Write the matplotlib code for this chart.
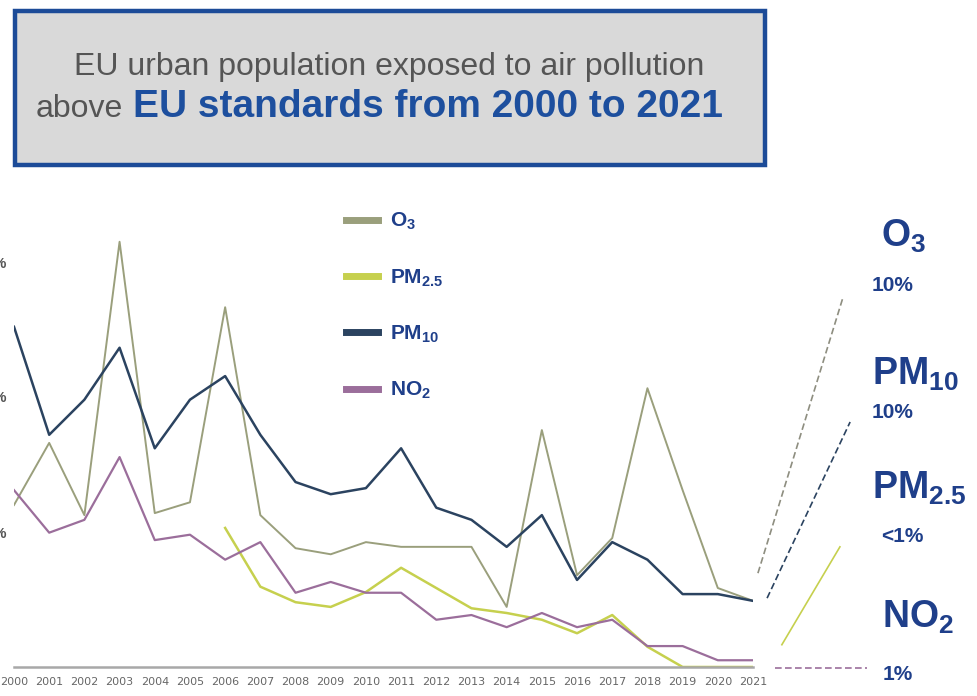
import matplotlib.pyplot as plt
from matplotlib.patches import Rectangle

years = list(range(2000, 2022))
o3 = [24.0, 33.2, 22.5, 63.0, 22.8, 24.4, 53.3, 22.5, 17.6, 16.7, 18.5,
      17.8, 17.8, 17.8, 8.9, 35.1, 13.6, 19.1, 41.3, 26.2, 11.7, 9.8]
pm10 = [50.4, 34.4, 39.6, 47.3, 32.4, 39.6, 43.1, 34.4, 27.4, 25.6, 26.5,
        32.4, 23.6, 21.8, 17.8, 22.5, 12.9, 18.5, 15.9, 10.8, 10.8, 9.8]
pm25_years = list(range(2006, 2022))
pm25 = [20.6, 11.9, 9.6, 8.9, 11.1, 14.7, 11.7, 8.7, 8.0, 7.0, 5.0, 7.7,
        3.0, 0.0, 0.0, 0.0]
no2 = [26.2, 19.9, 21.8, 31.1, 18.8, 19.6, 15.9, 18.5, 11.0, 12.6, 11.0,
       11.0, 7.0, 7.7, 5.9, 8.0, 5.9, 7.0, 3.1, 3.1, 1.0, 1.0]

legend_labels = ["O$_3$", "PM$_{2.5}$", "PM$_{10}$", "NO$_2$"]
share_2021 = ["10%", "<1%", "10%", "1%"]
ytick_values = [20, 40, 60]

C_O3 = "#9a9f7c"
C_PM25 = "#c6d04e"
C_PM10 = "#2b4360"
C_NO2 = "#9b6e9b"
NAVY = "#1f3f8a"
BLUE = "#1d4f9e"

W, H = 978, 696


def fx(x):
    return x / W


def fy(y):
    return 1 - y / H


plt.rcParams.update({
    "font.family": ["Liberation Sans", "DejaVu Sans"],
    "mathtext.fontset": "custom",
    "mathtext.rm": "Liberation Sans:bold",
    "mathtext.it": "Liberation Sans:bold",
    "mathtext.bf": "Liberation Sans:bold",
    "mathtext.default": "rm",
})

fig = plt.figure(figsize=(W / 100, H / 100), dpi=100)

# title box
fig.patches.append(Rectangle((fx(15), fy(165)), fx(765) - fx(15), fy(11) - fy(165),
                             transform=fig.transFigure, facecolor="#d9d9d9",
                             edgecolor="#1c4b98", linewidth=3.2))
fig.text(fx(389), fy(67), "EU urban population exposed to air pollution",
         ha="center", va="center", fontsize=23, color="#555555")
fig.text(fx(36), fy(109), "above", ha="left", va="center", fontsize=23,
         color="#555555")
fig.text(fx(133), fy(107), "EU standards from 2000 to 2021", ha="left",
         va="center", fontsize=28, fontweight="bold", color=BLUE)

# main axes: 2000 at x=14 px, 2021 at x=753 px, 0% at y=667 px
px_per_pct = 6.75
ymax = 70
ax = fig.add_axes([fx(14), fy(667), fx(753) - fx(14), ymax * px_per_pct / H])
ax.set_xlim(2000, 2021)
ax.set_ylim(0, ymax)

ax.plot(years, o3, color=C_O3, lw=1.4, label=legend_labels[0])
ax.plot(pm25_years, pm25, color=C_PM25, lw=1.8, label=legend_labels[1])
ax.plot(years, pm10, color=C_PM10, lw=1.8, label=legend_labels[2])
ax.plot(years, no2, color=C_NO2, lw=1.6, label=legend_labels[3])

for s in ["top", "right", "left"]:
    ax.spines[s].set_visible(False)
ax.spines["bottom"].set_color("#a8a8a8")
ax.spines["bottom"].set_linewidth(1.8)

ax.set_xticks(years)
ax.set_xticklabels([str(y) for y in years], fontsize=8, color="#666666",
                   family=["Liberation Sans Narrow", "DejaVu Sans"])
ax.set_yticks(ytick_values)
ax.set_yticklabels([f"{v}%" for v in ytick_values], fontsize=11,
                   fontweight="bold", color="#555555")
ax.tick_params(axis="x", length=0, pad=7)
ax.tick_params(axis="y", length=0, pad=5)

leg = ax.legend(loc="upper left", bbox_to_anchor=(fx(346), fy(211)),
                bbox_transform=fig.transFigure, frameon=False, fontsize=15,
                handlelength=1.55, handletextpad=0.55, labelspacing=1.68,
                borderpad=0, borderaxespad=0)
for line in leg.get_lines():
    line.set_linewidth(5)
for t in leg.get_texts():
    t.set_color(NAVY)
    t.set_fontweight("bold")

# connectors from the 2021 values to the right-hand labels
conn = dict(clip_on=False, lw=1.2)
ax.plot([2021.14, 2023.56], [13.9, 54.8], color="#8e8e80", ls=(0, (4, 2)), **conn)
ax.plot([2021.40, 2023.76], [10.2, 36.3], color=C_PM10, ls=(0, (4, 2)), **conn)
ax.plot([2021.82, 2023.47], [3.3, 17.8], color=C_PM25, ls="-", **conn)
ax.plot([2021.63, 2024.24], [-0.15, -0.15], color=C_NO2, ls=(0, (4, 2)), **conn)

# right-hand labels
big = dict(fontsize=27, fontweight="bold", color=NAVY, va="center")
small = dict(fontsize=15, fontweight="bold", color=NAVY, va="center")
fig.text(fx(881), fy(236), legend_labels[0], ha="left", **big)
fig.text(fx(872), fy(285), share_2021[0], ha="left", **small)
fig.text(fx(872), fy(374), legend_labels[2], ha="left", **big)
fig.text(fx(872), fy(412), share_2021[2], ha="left", **small)
fig.text(fx(872), fy(488), legend_labels[1], ha="left", **big)
fig.text(fx(881), fy(537), share_2021[1], ha="left", **small)
fig.text(fx(882), fy(617), legend_labels[3], ha="left", **big)
fig.text(fx(883), fy(675), share_2021[3], ha="left", **small)

fig.savefig("out.png", dpi=100)
plt.close(fig)
